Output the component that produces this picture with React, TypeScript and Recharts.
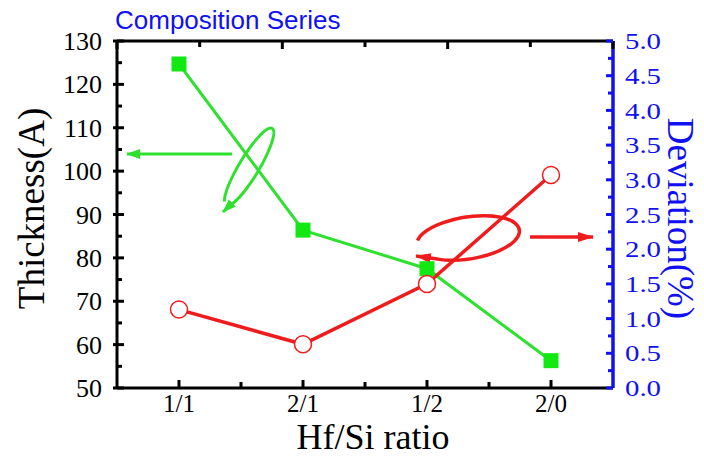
import React from 'react';
import { LineChart, Line, XAxis, YAxis, Customized } from 'recharts';

const ratios = ['1/1', '2/1', '1/2', '2/0'];
const thickness = [124.7, 86.4, 77.5, 56.3];
const deviation = [1.13, 0.63, 1.5, 3.07];
const xTicks = [0, 0.5, 1, 1.5, 2, 2.5, 3];
const thicknessTicks = [50, 55, 60, 65, 70, 75, 80, 85, 90, 95, 100, 105, 110, 115, 120, 125, 130];
const deviationTicks = [
  0, 0.25, 0.5, 0.75, 1, 1.25, 1.5, 1.75, 2, 2.25, 2.5, 2.75, 3, 3.25, 3.5, 3.75, 4, 4.25, 4.5, 4.75, 5,
];

const data = ratios.map((ratio, i) => ({
  ratio,
  idx: i,
  thickness: thickness[i],
  deviation: deviation[i],
}));

const SERIF = '"Liberation Serif", "Times New Roman", serif';
const BLUE = '#1010f0';
const GREEN = '#30e030';
const RED = '#ee1c1c';

const BottomTick = (props: any) => {
  const { x, y, payload } = props;
  const major = Number.isInteger(payload.value);
  return (
    <g>
      <line x1={x} y1={y} x2={x} y2={y - (major ? 8 : 6)} stroke="#000" strokeWidth={3} />
      {major && (
        <text x={x} y={y + 24} textAnchor="middle" fontSize={25} fontFamily={SERIF} fill="#000">
          {ratios[payload.value]}
        </text>
      )}
    </g>
  );
};

const TopTick = (props: any) => {
  const { x, y, payload } = props;
  const major = Number.isInteger(payload.value);
  return <line x1={x} y1={y} x2={x} y2={y + (major ? 8 : 6)} stroke="#000" strokeWidth={3} />;
};

const LeftTick = (props: any) => {
  const { x, y, payload } = props;
  const major = payload.value % 10 === 0;
  return (
    <g>
      <line x1={major ? x - 4 : x} y1={y} x2={x + (major ? 7 : 5)} y2={y} stroke="#000" strokeWidth={3} />
      {major && (
        <text x={x - 15} y={y} dy="0.35em" textAnchor="end" fontSize={26} fontFamily={SERIF} fill="#000">
          {payload.value}
        </text>
      )}
    </g>
  );
};

const RightTick = (props: any) => {
  const { x, y, payload } = props;
  const major = Math.abs(payload.value * 2 - Math.round(payload.value * 2)) < 1e-6;
  return (
    <g>
      <line x1={x} y1={y} x2={x - (major ? 7 : 5)} y2={y} stroke={BLUE} strokeWidth={3} />
      {major && (
        <text
          x={x + 12}
          y={y}
          dy="0.34em"
          textAnchor="start"
          fontSize={24}
          textLength={36}
          lengthAdjust="spacingAndGlyphs"
          fontFamily={SERIF}
          fill={BLUE}
        >
          {payload.value.toFixed(1)}
        </text>
      )}
    </g>
  );
};

const renderSquare = (props: any) => {
  const { cx, cy, index } = props;
  return <rect key={`sq-${index}`} x={cx - 7.5} y={cy - 7.5} width={15} height={15} fill="#12e812" />;
};

const Annotations = () => (
  <g>
    <defs>
      <marker id="arrG" markerWidth={14} markerHeight={10} refX={13} refY={5} orient="auto" markerUnits="userSpaceOnUse">
        <path d="M0,0 L14,5 L0,10 Z" fill={GREEN} />
      </marker>
      <marker id="arrR" markerWidth={16} markerHeight={10} refX={15} refY={5} orient="auto" markerUnits="userSpaceOnUse">
        <path d="M0,0 L16,5 L0,10 Z" fill={RED} />
      </marker>
    </defs>
    <path d="M 232 154 L 127 154" stroke={GREEN} strokeWidth={3} fill="none" markerEnd="url(#arrG)" />
    <path
      d="M 224.3 201.5 A 45 10 -59 1 1 230.2 205 L 223 212"
      stroke={GREEN}
      strokeWidth={3}
      fill="none"
      markerEnd="url(#arrG)"
    />
    <path
      d="M 417.5 240.5 A 52 21 -9 1 1 437.5 259.1 L 416 256"
      stroke={RED}
      strokeWidth={3.5}
      fill="none"
      markerEnd="url(#arrR)"
    />
    <path d="M 530 237 L 593 237" stroke={RED} strokeWidth={3.5} fill="none" markerEnd="url(#arrR)" />
  </g>
);

export default function App() {
  return (
    <div style={{ position: 'absolute', left: 0, top: 0, background: '#fff' }}>
      <LineChart width={704} height={457} data={data} margin={{ top: 40, right: 0, bottom: 0, left: 0 }}>
        <XAxis
          xAxisId="top"
          orientation="top"
          type="number"
          domain={[-0.5, 3.5]}
          allowDataOverflow
          ticks={xTicks}
          interval={0}
          height={1}
          tickSize={0}
          tickMargin={0}
          tickLine={false}
          tick={<TopTick />}
          axisLine={{ stroke: '#000', strokeWidth: 3 }}
          label={(p: any) => (
            <text
              x={p.viewBox.x - 2}
              y={p.viewBox.y - 11}
              fontSize={26}
              fontFamily='"Liberation Sans", Arial, sans-serif'
              fill={BLUE}
            >
              Composition Series
            </text>
          )}
        />
        <XAxis
          dataKey="idx"
          type="number"
          domain={[-0.5, 3.5]}
          allowDataOverflow
          ticks={xTicks}
          interval={0}
          height={69}
          tickSize={0}
          tickMargin={0}
          tickLine={false}
          tick={<BottomTick />}
          axisLine={{ stroke: '#000', strokeWidth: 3 }}
          label={(p: any) => (
            <text
              x={p.viewBox.x + p.viewBox.width / 2 + 8}
              y={p.viewBox.y + 61}
              textAnchor="middle"
              fontSize={36}
              fontFamily={SERIF}
              fill="#000"
            >
              Hf/Si ratio
            </text>
          )}
        />
        <YAxis
          yAxisId="l"
          domain={[50, 130]}
          allowDataOverflow
          ticks={thicknessTicks}
          interval={0}
          width={117}
          tickSize={0}
          tickMargin={0}
          tickLine={false}
          tick={<LeftTick />}
          axisLine={{ stroke: '#000', strokeWidth: 3 }}
          label={(p: any) => {
            const cx = p.viewBox.x + 31;
            const cy = p.viewBox.y + p.viewBox.height / 2 - 6;
            return (
              <text
                x={cx}
                y={cy}
                transform={`rotate(-90 ${cx} ${cy})`}
                textAnchor="middle"
                dominantBaseline="central"
                fontSize={37}
                fontFamily={SERIF}
                fill="#000"
              >
                Thickness(A)
              </text>
            );
          }}
        />
        <YAxis
          yAxisId="r"
          orientation="right"
          domain={[0, 5]}
          allowDataOverflow
          ticks={deviationTicks}
          interval={0}
          width={91}
          tickSize={0}
          tickMargin={0}
          tickLine={false}
          tick={<RightTick />}
          axisLine={{ stroke: BLUE, strokeWidth: 3.5 }}
          label={(p: any) => {
            const cx = p.viewBox.x + 67;
            const cy = p.viewBox.y + p.viewBox.height / 2 + 4;
            return (
              <text
                x={cx}
                y={cy}
                transform={`rotate(90 ${cx} ${cy})`}
                textAnchor="middle"
                dominantBaseline="central"
                fontSize={37}
                fontFamily={SERIF}
                fill={BLUE}
              >
                Deviation(%)
              </text>
            );
          }}
        />
        <Line
          yAxisId="l"
          dataKey="thickness"
          stroke={GREEN}
          strokeWidth={3}
          dot={renderSquare}
          activeDot={false}
          isAnimationActive={false}
        />
        <Line
          yAxisId="r"
          dataKey="deviation"
          stroke={RED}
          strokeWidth={3.5}
          dot={{ r: 8.5, fill: '#fff', stroke: RED, strokeWidth: 1.5 }}
          activeDot={false}
          isAnimationActive={false}
        />
        <Customized component={Annotations} />
      </LineChart>
    </div>
  );
}
